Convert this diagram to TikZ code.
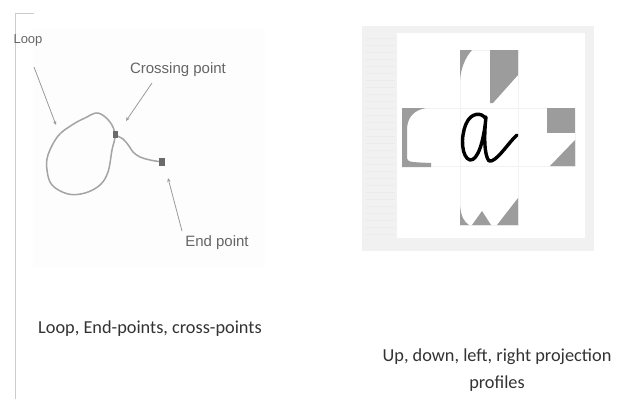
\documentclass[tikz,border=0pt]{standalone}
\usepackage{fontspec}
\setmainfont{Liberation Sans}
\newfontfamily\capfont{Carlito}
\usetikzlibrary{arrows.meta}
\definecolor{lbl}{HTML}{666666}
\definecolor{ln}{HTML}{9A9A9A}
\definecolor{prof}{HTML}{9C9C9C}
\definecolor{framec}{HTML}{F1F1F1}
\definecolor{captxt}{HTML}{333333}
\definecolor{curvec}{HTML}{A4A4A4}
\definecolor{dotc}{HTML}{6A6A6A}
\begin{document}
\begin{tikzpicture}[x=1pt,y=-1pt,
  lab/.style={text=lbl,font=\fontsize{15}{16}\selectfont,inner sep=0pt},
  captext/.style={text=captxt,font=\capfont\fontsize{18.3}{27}\selectfont,inner sep=0pt,align=center},
  ptr/.style={draw=ln,line width=0.8pt,-{Stealth[length=4pt,width=3.5pt]}},
  curve/.style={draw=curvec,line width=1.5pt},
  dotbox/.style={fill=dotc,minimum width=5pt,minimum height=7pt,inner sep=0pt},
  cell/.style={draw=gray!10,fill=white},
  proff/.style={fill=prof}]
\useasboundingbox (0,0) rectangle (622,399);
\fill[white] (0,0) rectangle (622,399);
% ---------- left panel ----------
\fill[white!98.5!gray] (33,28) rectangle (265,268);
\draw[gray!40,line width=0.8pt] (34,13) -- (15,13) -- (15,399);
\node[lab,font=\fontsize{13}{14}\selectfont] (loop) at (28,40) {Loop};
\node[lab] (cross) at (178,70) {Crossing point};
\node[lab] (endp) at (217,243) {End point};
\draw[curve] plot[smooth cycle, tension=0.6] coordinates {(115,135) (110,122) (98,113) (85,118) (72,125) (58,136) (48,155) (47,170) (52,185) (68,194) (85,193) (100,185) (108,172) (112,150)};
\draw[curve] plot[smooth, tension=0.6] coordinates {(115,135) (123,139) (129,146) (133,152) (140,157) (150,160) (162,162)};
\node[dotbox] (cp) at (115,134) {};
\node[dotbox,minimum width=6pt,minimum height=8pt] (ep) at (162,162) {};
\coordinate (loopA) at (34,67);
\coordinate (loopB) at (56,125);
\coordinate (crossA) at (152,83);
\coordinate (crossB) at (126,121);
\coordinate (endA) at (182,231);
\coordinate (endB) at (168,178);
\draw[ptr] (loopA) -- (loopB);
\draw[ptr] (crossA) -- (crossB);
\draw[ptr] (endA) -- (endB);
% ---------- right panel ----------
\fill[framec] (362,26) rectangle (594,251);
\foreach \yy in {38,45,...,236} \draw[gray!16,line width=0.6pt] (366,\yy) -- (395,\yy);
\fill[white] (397,33) rectangle (585,238);
\draw[cell] (460,50) rectangle (518,108);
\draw[cell] (402,108) rectangle (460,166);
\draw[cell] (460,108) rectangle (518,166);
\draw[cell] (518,108) rectangle (575,166);
\draw[cell] (460,166) rectangle (518,225);
% up profile
\fill[proff] (460,50) -- (472,50) .. controls (465,58) and (461,68) .. (460,80) -- cycle;
\fill[proff] (490,50) -- (518,50) -- (518,75) -- (493,103) -- (490,103) -- cycle;
% left profile
\fill[proff] (402,108) -- (426,108) .. controls (415,110) and (408,116) .. (407,128) -- (407,158) .. controls (408,162) .. (431,163) -- (431,167) -- (402,167) -- cycle;
% right profile
\fill[proff] (547,108) rectangle (575,133);
\fill[proff] (575,140) -- (575,166) -- (550,166) -- cycle;
% down profile
\fill[proff] (460,206) .. controls (461,216) and (464,222) .. (469,225) -- (460,225) -- cycle;
\fill[proff] (472,225) -- (482,211) -- (491,225) -- cycle;
\fill[proff] (497,225) -- (518,198) -- (518,225) -- cycle;
% letter a
\draw[line width=3.4pt,line cap=round,line join=round] (486,119) .. controls (482,112) and (471,112) .. (466,124) .. controls (460,138) and (462,158) .. (470,160) .. controls (478,161) and (484,140) .. (486,117) .. controls (484,135) and (484,155) .. (489,161) .. controls (496,163) and (508,143) .. (517,135);
% ---------- captions ----------
\node[captext] (cap1) at (150,329) {Loop, End-points, cross-points};
\node[captext] (cap2) at (497,370) {Up, down, left, right projection\\profiles};
\end{tikzpicture}
\end{document}
